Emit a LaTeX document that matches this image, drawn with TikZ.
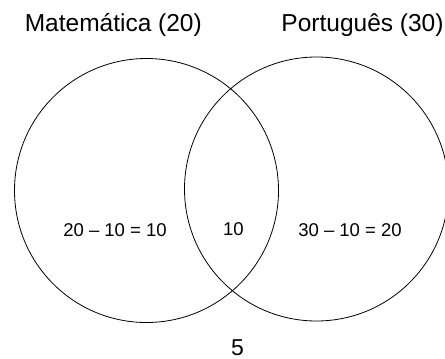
\documentclass[tikz,border=0pt]{standalone}
\usepackage{fontspec}
\setmainfont{Liberation Sans}
\begin{document}
\begin{tikzpicture}[x=1pt,y=-1pt,
  setc/.style={circle, draw=black, line width=0.8pt, inner sep=0pt},
  title/.style={anchor=base, inner sep=0pt, font=\fontsize{24.5}{28}\selectfont},
  val/.style={anchor=base, inner sep=0pt, font=\fontsize{18.5}{22}\selectfont}]
\useasboundingbox (0,0) rectangle (445,359);
\node[setc, minimum size=264pt] (mat) at (146.5,190.5) {};
\node[setc, minimum size=264pt] (por) at (316.5,189) {};
\node[title] (tmat) at (113.3,31) {Matemática (20)};
\node[title] (tpor) at (362.5,31) {Português (30)};
\node[val] (vmat) at (115,236) {20 – 10 = 10};
\node[val] (vboth) at (233.3,235.5) {10};
\node[val] (vpor) at (350,236) {30 – 10 = 20};
\node[anchor=base, inner sep=0pt, font=\fontsize{23}{26}\selectfont] (vnone) at (237.5,355) {5};
\end{tikzpicture}
\end{document}
